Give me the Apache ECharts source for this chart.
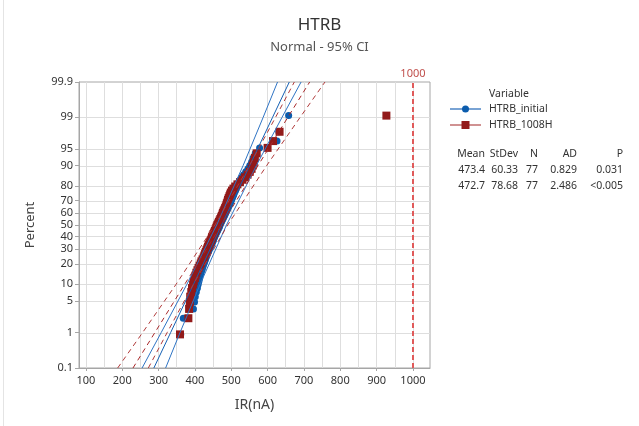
<!DOCTYPE html>
<html>
<head>
<meta charset="utf-8">
<script src="https://cdn.jsdelivr.net/npm/echarts@6/dist/echarts.min.js"></script>
<style>
  html, body { margin: 0; padding: 0; background: #fff; }
  #chart { width: 639px; height: 426px; }
</style>
</head>
<body>
<div id="chart"></div>
<script>
// IR(nA) per unit, sorted, 77 units each
const initialVals = [
  361, 368, 396, 399, 401, 404, 407, 409, 411, 413,
  415, 417, 419, 421, 423, 425, 427, 429, 431, 433,
  435, 437, 439, 441, 443, 445, 447, 449, 451, 452,
  454, 456, 458, 460, 462, 464, 466, 468, 469, 471,
  473, 475, 477, 479, 481, 483, 485, 487, 489, 491,
  493, 495, 497, 499, 501, 503, 505, 507, 509, 512,
  514, 516, 518, 521, 525, 529, 534, 540, 546, 551,
  556, 560, 566, 578, 626, 631, 658
];
const h1008Vals = [
  359, 382, 384, 386, 387, 390, 392, 395, 397, 400,
  402, 404, 407, 410, 413, 416, 418, 421, 424, 426,
  428, 430, 432, 434, 436, 438, 440, 442, 444, 446,
  447, 449, 451, 453, 455, 457, 459, 460, 462, 464,
  466, 468, 470, 472, 474, 476, 477, 479, 481, 483,
  485, 487, 488, 490, 491, 493, 495, 497, 499, 502,
  506, 511, 517, 524, 531, 538, 545, 551, 556, 559,
  562, 565, 570, 600, 615, 633, 927
];

// fitted line + 95% CI, x value at each percent level
const linePct = [0.1, 1, 10, 50, 90, 99, 99.9];
const initialFit = [287.0, 333.1, 396.1, 473.4, 550.7, 613.7, 659.8];
const initialLo = [254.6, 307.1, 377.9, 459.9, 532.5, 587.8, 627.4];
const initialHi = [319.4, 359.0, 414.3, 486.9, 568.9, 639.7, 692.2];
const h1008Fit = [229.6, 289.7, 371.9, 472.7, 573.5, 655.7, 715.8];
const h1008Lo = [187.4, 255.9, 348.2, 455.1, 549.8, 621.9, 673.6];
const h1008Hi = [271.8, 323.5, 395.6, 490.3, 597.2, 689.5, 758.0];

const xTicks = [100, 200, 300, 400, 500, 600, 700, 800, 900, 1000];
const xGridVals = [100, 150, 200, 250, 300, 350, 400, 450, 500, 550, 600, 650, 700, 750, 800, 850, 900, 950, 1000];
const pctTicks = [0.1, 1, 5, 10, 20, 30, 40, 50, 60, 70, 80, 90, 95, 99, 99.9];
const refLine = 1000;

const statsHead = ['Mean', 'StDev', 'N', 'AD', 'P'];
const statsRows = [
  ['473.4', '60.33', '77', '0.829', '0.031'],
  ['472.7', '78.68', '77', '2.486', '<0.005']
];

// inverse normal cdf (probability axis)
function probit(p) {
  const a = [-3.969683028665376e+01, 2.209460984245205e+02, -2.759285104469687e+02, 1.383577518672690e+02, -3.066479806614716e+01, 2.506628277459239e+00];
  const b = [-5.447609879822406e+01, 1.615858368580409e+02, -1.556989798598866e+02, 6.680131188771972e+01, -1.328068155288572e+01];
  const c = [-7.784894002430293e-03, -3.223964580411365e-01, -2.400758277161838e+00, -2.549732539343734e+00, 4.374664141464968e+00, 2.938163982698783e+00];
  const d = [7.784695709041462e-03, 3.224671290700398e-01, 2.445134137142996e+00, 3.754408661907416e+00];
  const pl = 0.02425;
  let q, r;
  if (p < pl) {
    q = Math.sqrt(-2 * Math.log(p));
    return (((((c[0] * q + c[1]) * q + c[2]) * q + c[3]) * q + c[4]) * q + c[5]) / ((((d[0] * q + d[1]) * q + d[2]) * q + d[3]) * q + 1);
  }
  if (p > 1 - pl) {
    q = Math.sqrt(-2 * Math.log(1 - p));
    return -(((((c[0] * q + c[1]) * q + c[2]) * q + c[3]) * q + c[4]) * q + c[5]) / ((((d[0] * q + d[1]) * q + d[2]) * q + d[3]) * q + 1);
  }
  q = p - 0.5; r = q * q;
  return (((((a[0] * r + a[1]) * r + a[2]) * r + a[3]) * r + a[4]) * r + a[5]) * q / (((((b[0] * r + b[1]) * r + b[2]) * r + b[3]) * r + b[4]) * r + 1);
}

const yTickZ = pctTicks.map(p => probit(p / 100));
const yMin = yTickZ[0] - 1e-9;
const yMax = yTickZ[yTickZ.length - 1] + 1e-9;

// median rank plotting positions
const toPoints = vals => vals.map((v, i) => [v, probit((i + 1 - 0.3) / (vals.length + 0.4))]);
const toLine = xs => xs.map((v, i) => [v, probit(linePct[i] / 100)]);

const BLUE = '#0b5cad';
const RED = '#921a1a';
const FONT = 'Noto Sans';
const GRID = '#dedede';

const chart = echarts.init(document.getElementById('chart'));

function lineSeries(xs, color, dashed) {
  return {
    type: 'line',
    data: toLine(xs),
    showSymbol: false,
    silent: true,
    z: 5,
    lineStyle: { color: color, width: 1, type: dashed ? [5, 4] : 'solid' }
  };
}

function labelFor(v) {
  let best = 0;
  yTickZ.forEach((z, i) => { if (Math.abs(z - v) < Math.abs(yTickZ[best] - v)) best = i; });
  return String(pctTicks[best]);
}

const tableFont = '10.5px "Noto Sans"';
const graphics = [
  { type: 'line', shape: { x1: 3.5, y1: 0, x2: 3.5, y2: 426 }, style: { stroke: '#e4e4e4', lineWidth: 1 } },
  { type: 'text', x: 489, y: 94, style: { text: 'Variable', font: tableFont, fill: '#333', textVerticalAlign: 'middle' } },
  { type: 'line', shape: { x1: 450, y1: 109, x2: 481, y2: 109 }, style: { stroke: '#1f66b8', lineWidth: 1.2 } },
  { type: 'circle', shape: { cx: 465.5, cy: 109, r: 3.5 }, style: { fill: BLUE } },
  { type: 'text', x: 489, y: 109, style: { text: 'HTRB_initial', font: tableFont, fill: '#333', textVerticalAlign: 'middle' } },
  { type: 'line', shape: { x1: 450, y1: 125, x2: 481, y2: 125 }, style: { stroke: '#b04848', lineWidth: 1.2 } },
  { type: 'rect', shape: { x: 461.5, y: 121, width: 8, height: 8 }, style: { fill: RED } },
  { type: 'text', x: 489, y: 125, style: { text: 'HTRB_1008H', font: tableFont, fill: '#333', textVerticalAlign: 'middle' } }
];
const colRight = [485, 518, 538, 577, 623];
[statsHead].concat(statsRows).forEach((row, r) => {
  row.forEach((t, k) => {
    graphics.push({
      type: 'text', x: colRight[k], y: 154 + r * 16,
      style: { text: t, font: tableFont, fill: '#333', textAlign: 'right', textVerticalAlign: 'middle' }
    });
  });
});

// grid lines drawn as markLines through the axes
const gridMarks = xGridVals.map(v => ({ xAxis: v })).concat(yTickZ.slice(1, -1).map(z => ({ yAxis: z })));

const option = {
  animation: false,
  textStyle: { fontFamily: FONT },
  title: [
    { text: 'HTRB', left: 'center', top: 12, textStyle: { fontSize: 17, fontWeight: 'normal', color: '#333', fontFamily: FONT } },
    { text: 'Normal - 95% CI', left: 'center', top: 36, textStyle: { fontSize: 13, fontWeight: 'normal', color: '#555', fontFamily: FONT } }
  ],
  grid: { left: 79, right: 209, top: 82, bottom: 58, show: true, borderColor: '#a6a6a6', borderWidth: 1, backgroundColor: 'transparent' },
  xAxis: {
    type: 'value', min: 81, max: 1047,
    name: 'IR(nA)', nameLocation: 'middle', nameGap: 30,
    nameTextStyle: { fontSize: 14, color: '#444', fontFamily: FONT },
    axisLine: { show: true, onZero: false, lineStyle: { color: '#a6a6a6' } },
    axisTick: { show: true, length: 3, customValues: xTicks, lineStyle: { color: '#a6a6a6' } },
    axisLabel: { customValues: xTicks, fontSize: 11, color: '#333', margin: 7, formatter: v => String(v) },
    splitLine: { show: false }
  },
  yAxis: {
    type: 'value', min: yMin, max: yMax,
    name: 'Percent', nameLocation: 'middle', nameGap: 42,
    nameTextStyle: { fontSize: 13, color: '#444', fontFamily: FONT },
    axisLine: { show: true, onZero: false, lineStyle: { color: '#a6a6a6' } },
    axisTick: { show: true, length: 4, customValues: yTickZ, lineStyle: { color: '#a6a6a6' } },
    axisLabel: {
      customValues: yTickZ, fontSize: 11, color: '#333', margin: 6,
      showMinLabel: true, showMaxLabel: true, hideOverlap: false,
      formatter: labelFor
    },
    splitLine: { show: false }
  },
  graphic: graphics,
  series: [
    {
      type: 'line', data: [], silent: true, z: 1,
      markLine: {
        silent: true, symbol: 'none', animation: false, z: 0,
        label: { show: false },
        lineStyle: { color: GRID, width: 1, type: 'solid' },
        data: gridMarks
      }
    },
    {
      name: 'HTRB_initial', type: 'scatter', data: toPoints(initialVals),
      symbol: 'circle', symbolSize: 7, itemStyle: { color: BLUE, opacity: 1 }, z: 3
    },
    {
      name: 'HTRB_1008H', type: 'scatter', data: toPoints(h1008Vals),
      symbol: 'rect', symbolSize: 8, itemStyle: { color: RED, opacity: 1 }, z: 4,
      markLine: {
        silent: true, symbol: 'none',
        lineStyle: { color: '#e05a5a', width: 2, type: [5, 3] },
        label: { show: true, position: 'end', formatter: '1000', color: '#c0504d', fontSize: 11, distance: 3 },
        data: [{ xAxis: refLine }]
      }
    },
    lineSeries(initialFit, '#1560b3', false),
    lineSeries(initialLo, '#2f74c4', false),
    lineSeries(initialHi, '#2f74c4', false),
    lineSeries(h1008Fit, '#a8282a', true),
    lineSeries(h1008Lo, '#b03a3a', true),
    lineSeries(h1008Hi, '#b03a3a', true)
  ]
};
chart.setOption(option);
</script>
</body>
</html>
